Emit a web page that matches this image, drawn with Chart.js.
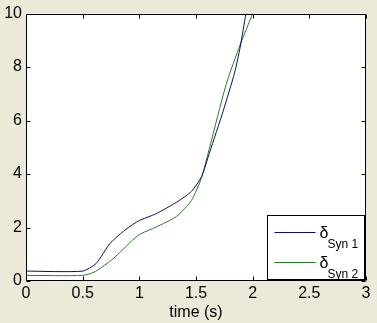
<!DOCTYPE html>
<html>
<head>
<meta charset="utf-8">
<script src="https://cdn.jsdelivr.net/npm/chart.js@4/dist/chart.umd.min.js"></script>
<style>
html,body{margin:0;padding:0;background:#ECE9D8;}
#wrap{width:377px;height:323px;}
</style>
</head>
<body>
<div id="wrap"><canvas id="c" width="377" height="323"></canvas></div>
<script>
// Data
const seriesNames = ["Syn 1", "Syn 2"];
const time1 = [0, 0.5, 0.62, 0.74, 0.86, 0.99, 1.15, 1.33, 1.46, 1.55, 1.62, 1.74, 1.84, 1.89, 1.94];
const delta1 = [0.37, 0.37, 0.66, 1.40, 1.86, 2.24, 2.52, 2.95, 3.35, 3.91, 4.81, 6.36, 7.78, 8.75, 10.0];
const time2 = [0, 0.5, 0.61, 0.77, 0.99, 1.15, 1.33, 1.46, 1.55, 1.65, 1.77, 1.89, 2.0];
const delta2 = [0.21, 0.21, 0.35, 0.84, 1.71, 2.02, 2.42, 3.01, 3.88, 5.49, 7.41, 8.84, 10.0];
const xTicks = [0, 0.5, 1, 1.5, 2, 2.5, 3];
const yTicks = [0, 2, 4, 6, 8, 10];
const xLabel = "time (s)";

const colors = ["#0c0c5e", "#2a7a2a"];
const FONT = "'Liberation Sans', Arial, sans-serif";

const pts = (xs, ys) => xs.map((x, i) => ({x: x, y: ys[i]}));

const boxPlugin = {
  id: 'matlabBox',
  beforeDraw(chart) {
    const {ctx, chartArea: a} = chart;
    ctx.save();
    ctx.fillStyle = '#ffffff';
    ctx.fillRect(a.left, a.top, a.right - a.left, a.bottom - a.top);
    ctx.restore();
  },
  afterDraw(chart) {
    const {ctx, chartArea: a} = chart;
    const xs = chart.scales.x, ys = chart.scales.y;
    ctx.save();
    ctx.strokeStyle = '#000';
    ctx.lineWidth = 1;
    const L = Math.round(a.left) + 0.5, R = Math.round(a.right) - 0.5;
    const T = Math.round(a.top) + 0.5, B = Math.round(a.bottom) - 0.5;
    ctx.beginPath();
    ctx.rect(L, T, R - L, B - T);
    ctx.stroke();
    const tl = 4;
    ctx.beginPath();
    xTicks.forEach(v => {
      const px = Math.round(xs.getPixelForValue(v)) + 0.5;
      ctx.moveTo(px, B); ctx.lineTo(px, B - tl);
      ctx.moveTo(px, T); ctx.lineTo(px, T + tl);
    });
    yTicks.forEach(v => {
      const py = Math.round(ys.getPixelForValue(v)) + 0.5;
      ctx.moveTo(L, py); ctx.lineTo(L + tl, py);
      ctx.moveTo(R, py); ctx.lineTo(R - tl, py);
    });
    ctx.stroke();

    // Legend (MATLAB style with subscripts)
    const w = 97, h = 64;
    const lx = Math.round(a.right) - 2 - w + 0.5;
    const ly = Math.round(a.bottom) - 2 - h + 0.5;
    ctx.fillStyle = '#fff';
    ctx.fillRect(lx, ly, w, h);
    ctx.strokeStyle = '#000';
    ctx.strokeRect(lx, ly, w, h);
    chart.data.datasets.forEach((ds, i) => {
      const cy = ly + 16 + i * 30.5;
      ctx.strokeStyle = ds.borderColor;
      ctx.lineWidth = 1;
      ctx.beginPath();
      ctx.moveTo(lx + 7, Math.round(cy) + 0.5);
      ctx.lineTo(lx + 48, Math.round(cy) + 0.5);
      ctx.stroke();
      ctx.fillStyle = '#000';
      ctx.textBaseline = 'alphabetic';
      ctx.textAlign = 'left';
      ctx.font = '16px ' + FONT;
      ctx.fillText('\u03B4', lx + 52, cy + 6);
      ctx.font = '12px ' + FONT;
      ctx.fillText(ds.label, lx + 60, cy + 16);
    });
    ctx.restore();
  }
};

new Chart(document.getElementById('c'), {
  type: 'scatter',
  data: {
    datasets: [
      {label: seriesNames[0], data: pts(time1, delta1), borderColor: colors[0], backgroundColor: colors[0]},
      {label: seriesNames[1], data: pts(time2, delta2), borderColor: colors[1], backgroundColor: colors[1]}
    ].map(d => Object.assign(d, {showLine: true, pointRadius: 0, borderWidth: 1, tension: 0.2, fill: false}))
  },
  options: {
    responsive: false,
    animation: false,
    events: [],
    layout: {padding: {top: 12, right: 11, left: 0, bottom: 0}},
    plugins: {legend: {display: false}, tooltip: {enabled: false}},
    scales: {
      x: {
        type: 'linear', min: 0, max: 3,
        grid: {display: false, drawTicks: false},
        border: {display: false},
        afterBuildTicks: s => { s.ticks = xTicks.map(v => ({value: v})); },
        afterFit: s => { s.height = 42; },
        ticks: {color: '#000', font: {family: FONT, size: 16}, padding: 3, maxRotation: 0,
          callback: v => String(v)},
        title: {display: true, text: xLabel, color: '#000', font: {family: FONT, size: 16}, padding: {top: 0, bottom: 1}}
      },
      y: {
        type: 'linear', min: 0, max: 10,
        grid: {display: false, drawTicks: false},
        border: {display: false},
        afterBuildTicks: s => { s.ticks = yTicks.map(v => ({value: v})); },
        afterFit: s => { s.width = 26; },
        ticks: {color: '#000', font: {family: FONT, size: 16}, padding: 4, callback: v => String(v)}
      }
    }
  },
  plugins: [boxPlugin]
});
</script>
</body>
</html>
